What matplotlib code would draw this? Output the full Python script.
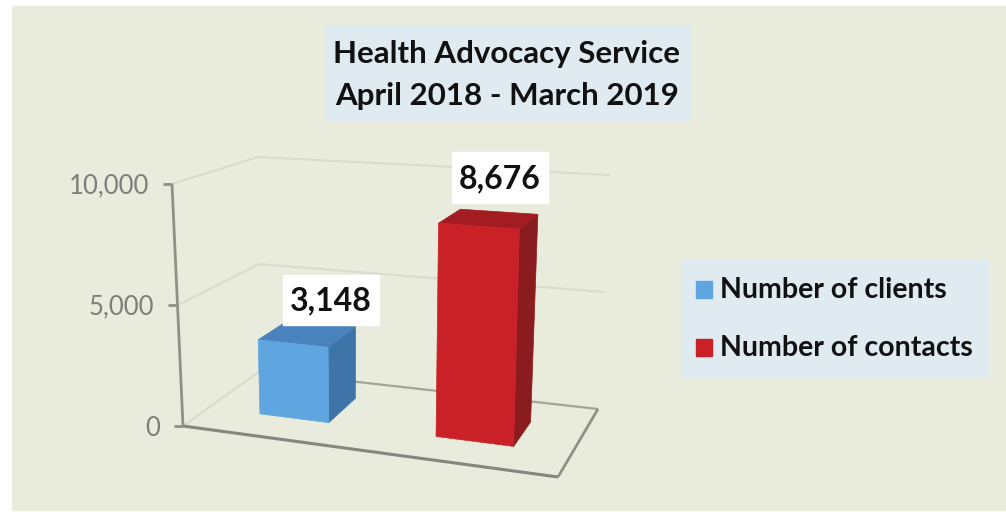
import numpy as np
import matplotlib
matplotlib.use('Agg')
import matplotlib.pyplot as plt
from matplotlib.patches import Rectangle

plt.rcParams['font.family'] = ['Lato', 'DejaVu Sans']

title_lines = ['Health Advocacy Service', 'April 2018 - March 2019']
categories = ['Number of clients', 'Number of contacts']
values = [3148, 8676]
value_labels = ['3,148', '8,676']
y_ticks = [0, 5000, 10000]
y_tick_labels = ['0', '5,000', '10,000']
y_max = 10000

# bar footprint on the floor, 0-1 across and front to back
bar_left = [0.14, 0.626]
bar_right = [0.33, 0.84]
bar_front = [0.34, 0.34]
bar_back = [0.75, 0.71]

front_colors = ['#5fa6e0', '#c92127']
top_colors = ['#4a82bd', '#a31c21']
side_colors = ['#3f74a8', '#8a1b1f']

# corners of the 3d box in image pixels
floor_fl = np.array([183, 426])
floor_fr = np.array([558, 477])
floor_br = np.array([598, 409])
floor_bl = np.array([260, 371])
top_fl = np.array([172, 184])
top_fr = np.array([566, 213])
top_br = np.array([610, 175])
top_bl = np.array([258, 157])


def project(u, d, v):
    floor = ((1 - u) * (1 - d) * floor_fl + u * (1 - d) * floor_fr
             + u * d * floor_br + (1 - u) * d * floor_bl)
    top = ((1 - u) * (1 - d) * top_fl + u * (1 - d) * top_fr
           + u * d * top_br + (1 - u) * d * top_bl)
    t = v / y_max
    return floor * (1 - t) + top * t


def face(ax, points, color, zorder=3):
    xy = np.array(points)
    ax.fill(xy[:, 0], xy[:, 1], color=color, linewidth=0.5, zorder=zorder)


def line(ax, a, b, color, lw, zorder=2):
    ax.plot([a[0], b[0]], [a[1], b[1]], color=color, lw=lw,
            solid_capstyle='butt', zorder=zorder)


fig = plt.figure(figsize=(10.06, 5.12), dpi=100, facecolor='white')
ax = fig.add_axes([0, 0, 1, 1])
ax.set_xlim(0, 1006)
ax.set_ylim(512, 0)
ax.axis('off')

ax.add_patch(Rectangle((12, 6), 994, 504, color='#e9ebdd', zorder=0))

# wall grid lines
for tick in y_ticks[1:]:
    line(ax, project(0, 0, tick), project(0, 1, tick), '#d9dbd0', 1.5)
    line(ax, project(0, 1, tick), project(1, 1, tick), '#d9dbd0', 1.5)

# floor
line(ax, project(0, 0, 0), project(0, 1, 0), '#d9dbd0', 1.5)
line(ax, project(0, 1, 0), project(1, 1, 0), '#a3a59b', 1.6)
line(ax, project(1, 1, 0), project(1, 0, 0), '#8f9188', 2)
line(ax, project(0, 0, 0), project(1, 0, 0), '#85877f', 2.2)

# value axis with ticks
line(ax, project(0, 0, 0), project(0, 0, y_max), '#8f9188', 2)
for tick, label in zip(y_ticks, y_tick_labels):
    p = project(0, 0, tick)
    line(ax, p, p - np.array([9, 0]), '#8f9188', 2)
    ax.text(p[0] - 23, p[1] + 2, label, ha='right', va='center',
            fontsize=18.5, color='#7d7f7b', zorder=4)

# bars
for i, v in enumerate(values):
    l, r = bar_left[i], bar_right[i]
    f, b = bar_front[i], bar_back[i]
    face(ax, [project(r, f, 0), project(r, b, 0),
              project(r, b, v), project(r, f, v)], side_colors[i])
    face(ax, [project(l, f, v), project(r, f, v),
              project(r, b, v), project(l, b, v)], top_colors[i])
    face(ax, [project(l, f, 0), project(r, f, 0),
              project(r, f, v), project(l, f, v)], front_colors[i])

# value labels
label_boxes = [(283, 275, 96, 50), (452, 152, 96, 51)]
for label, (x, y, w, h) in zip(value_labels, label_boxes):
    ax.add_patch(Rectangle((x, y), w, h, color='white', zorder=5))
    ax.text(x + w / 2, y + h / 2 + 1, label, ha='center', va='center',
            fontsize=23, fontweight='bold', color='#111111', zorder=6)

# title
ax.add_patch(Rectangle((325, 25), 365, 95, color='#dfeaf1', zorder=1))
ax.text(507, 54, title_lines[0], ha='center', va='center', fontsize=22.5,
        fontweight='bold', color='#111111', zorder=6)
ax.text(507, 96, title_lines[1], ha='center', va='center', fontsize=22.5,
        fontweight='bold', color='#111111', zorder=6)

# legend
ax.add_patch(Rectangle((681, 260), 307, 117, color='#dfeaf1', zorder=1))
for name, color, y in zip(categories, front_colors, [289, 347]):
    ax.add_patch(Rectangle((696, y - 8.5), 16, 17, color=color, zorder=3))
    ax.text(720, y + 1, name, ha='left', va='center', fontsize=20.5,
            fontweight='bold', color='#111111', zorder=6)

plt.savefig('out.png', dpi=100)
plt.close()
